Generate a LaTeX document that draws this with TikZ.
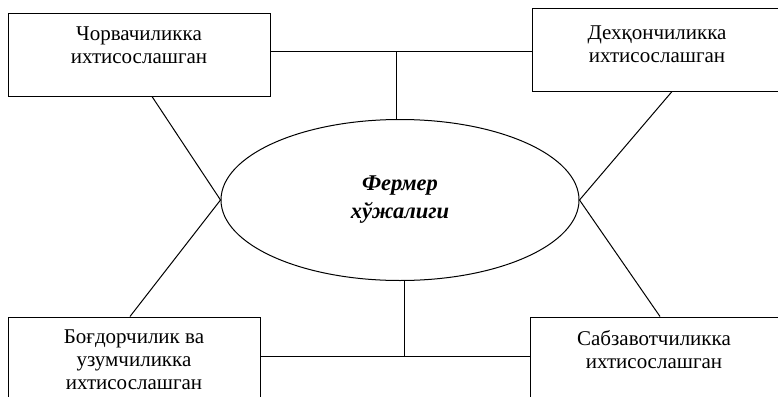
\documentclass[tikz,border=0pt]{standalone}
\usepackage{fontspec}
\setmainfont{Liberation Serif}
\usetikzlibrary{shapes.geometric}
\tikzset{
  farmbox/.style={draw, rectangle, line width=1pt},
  boxtext/.style={align=center, inner sep=0pt, font=\fontsize{21}{23}\selectfont},
  farmoval/.style={draw, ellipse, line width=1pt, minimum width=358pt, minimum height=161pt,
    align=center, inner sep=0pt, font=\fontsize{22.5}{28}\selectfont\bfseries\itshape},
  link/.style={line width=1pt}
}
\begin{document}
\begin{tikzpicture}[x=1pt,y=-1pt]
                \useasboundingbox (0,0) rectangle (778,396);
                \clip (0,0) rectangle (778,396);
                \node[farmoval] (farm) at (400,200) {Фермер\\хўжалиги};
                \node[farmbox, minimum width=262pt, minimum height=82pt] (chorva) at (139,55) {};
                \node[farmbox, minimum width=249pt, minimum height=82pt] (dehqon) at (657,50) {};
                \node[farmbox, minimum width=252pt, minimum height=90pt] (bogdor) at (134,362) {};
                \node[farmbox, minimum width=250pt, minimum height=90pt] (sabzavot) at (655,362) {};
                \node[boxtext] (chorvatext) at (139,45.5) {Чорвачиликка\\ихтисослашган};
                \node[boxtext] (dehqontext) at (657,44) {Дехқончиликка\\ихтисослашган};
                \node[boxtext] (bogdortext) at (134,359.5) {Боғдорчилик ва\\узумчиликка\\ихтисослашган};
                \node[boxtext] (sabzavottext) at (654,350) {Сабзавотчиликка\\ихтисослашган};
                \coordinate (topjoin) at (396,52);
                \coordinate (botjoin) at (404,356);

                \draw[link] ([xshift=13pt]chorva.south) to (farm.west); \draw[link] ([xshift=15pt]dehqon.south) to (farm.east);
                \draw[link] ([xshift=-4pt]bogdor.north) to (farm.west); \draw[link] ([xshift=5pt]sabzavot.north) to (farm.east);
                \draw[link] (chorva.east |- topjoin) to (dehqon.west |- topjoin); \draw[link] (topjoin) to (topjoin |- farm.north);
                \draw[link] (bogdor.east |- botjoin) to (sabzavot.west |- botjoin); \draw[link] (botjoin) to (botjoin |- farm.south);
            \end{tikzpicture}
\end{document}
